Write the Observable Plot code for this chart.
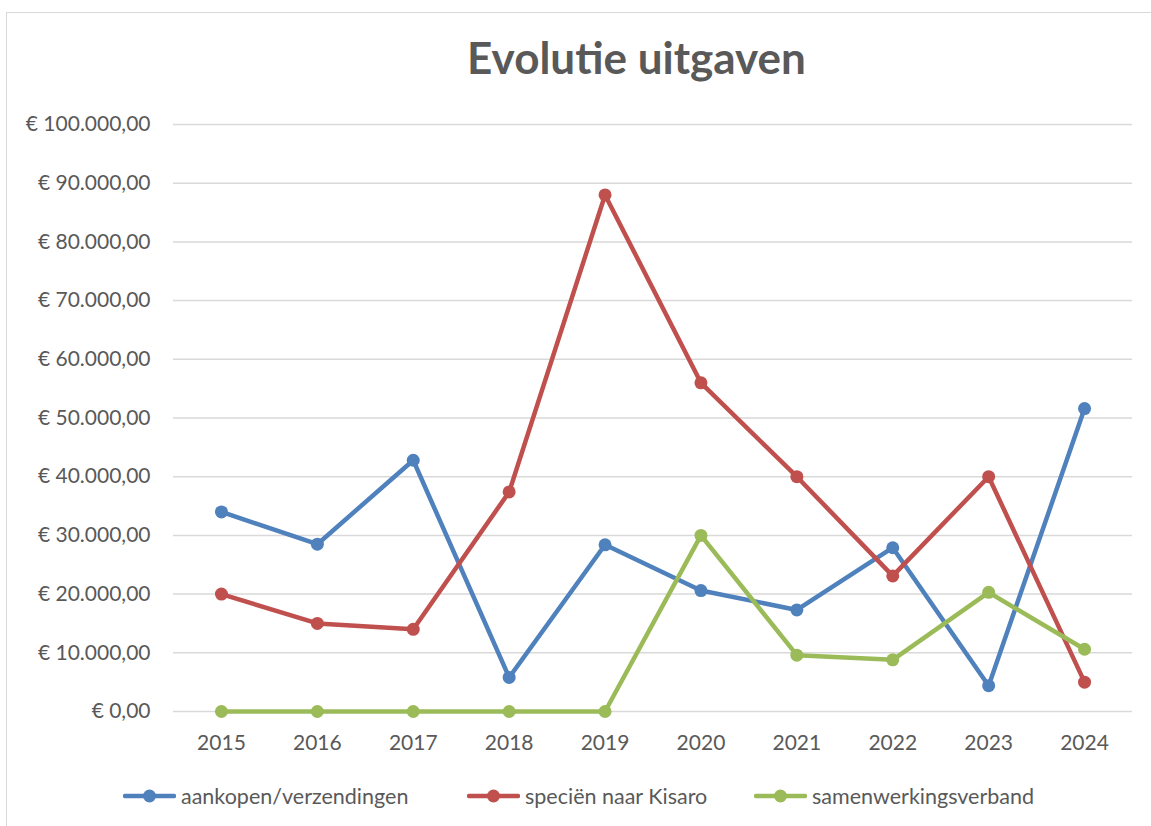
<!DOCTYPE html>
<html>
<head>
<meta charset="utf-8">
<script src="https://cdn.jsdelivr.net/npm/d3@7"></script>
<script src="https://cdn.jsdelivr.net/npm/@observablehq/plot@0.6"></script>
<style>
  html, body { margin: 0; padding: 0; background: #fff; overflow: hidden; width: 1151px; height: 826px; }
  #frame { position: absolute; left: 6px; top: 12px; width: 1200px; height: 900px; border: 1.5px solid #d9d9d9; box-sizing: border-box; }
  #title { position: absolute; left: 0; top: 0; width: 1151px; height: 114px; text-align: center; font-family: Lato, "Open Sans", sans-serif; font-weight: bold; font-size: 44px; color: #595959; line-height: 114px; padding-left: 122px; box-sizing: border-box; }
  #chart { position: absolute; left: 0; top: 100px; }
  #legend { position: absolute; top: 783px; left: 0; width: 1151px; height: 26px; font-family: Lato, "Open Sans", sans-serif; font-size: 21.5px; color: #595959; }
  .item { position: absolute; display: flex; align-items: center; height: 26px; }
  .item svg { margin-right: 5px; }
</style>
</head>
<body>
<div id="frame"></div>
<div id="title">Evolutie uitgaven</div>
<div id="chart"></div>
<div id="legend"></div>
<script>
const years = ["2015","2016","2017","2018","2019","2020","2021","2022","2023","2024"];
const seriesNames = ["aankopen/verzendingen", "speciën naar Kisaro", "samenwerkingsverband"];
const aankopen = [34000, 28500, 42800, 5800, 28400, 20600, 17300, 27900, 4400, 51600];
const specien = [20000, 15000, 14000, 37400, 88000, 56000, 40000, 23100, 40000, 5000];
const samenwerking = [0, 0, 0, 0, 0, 30000, 9600, 8800, 20300, 10600];
const colors = ["#4F81BD", "#C0504D", "#9BBB59"];
const yTicks = [0, 10000, 20000, 30000, 40000, 50000, 60000, 70000, 80000, 90000, 100000];

const seriesValues = [aankopen, specien, samenwerking];
const data = [];
seriesNames.forEach((s, si) => {
  years.forEach((y, i) => data.push({year: y, value: seriesValues[si][i], series: s}));
});

const nl = d3.formatLocale({decimal: ",", thousands: ".", grouping: [3], currency: ["€ ", ""]});
const fmt = nl.format("$,.2f");

const plot = Plot.plot({
  width: 1151,
  height: 650,
  marginLeft: 173,
  marginRight: 19,
  marginTop: 24,
  marginBottom: 39,
  style: {fontFamily: "Lato, 'Open Sans', sans-serif", fontSize: "21px", color: "#595959", background: "transparent", overflow: "visible"},
  x: {type: "point", domain: years, padding: 0.5, align: 0.5, round: false},
  y: {domain: [0, 100000]},
  color: {domain: seriesNames, range: colors},
  marks: [
    Plot.ruleY(yTicks, {stroke: "#d9d9d9", strokeWidth: 1.5}),
    Plot.axisY({ticks: yTicks, tickFormat: fmt, tickSize: 0, tickPadding: 23, label: null}),
    Plot.axisX({tickSize: 0, tickPadding: 24, label: null}),
    Plot.line(data, {x: "year", y: "value", z: "series", stroke: "series", strokeWidth: 4.5, strokeLinejoin: "round", strokeLinecap: "round"}),
    Plot.dot(data, {x: "year", y: "value", fill: "series", r: 6.5})
  ]
});
document.getElementById("chart").appendChild(plot);

const legend = document.getElementById("legend");
const legendX = [123, 467, 754];
seriesNames.forEach((s, i) => {
  const div = document.createElement("div");
  div.className = "item";
  div.style.left = legendX[i] + "px";
  div.innerHTML = `<svg width="53" height="20"><line x1="2" y1="10" x2="51" y2="10" stroke="${colors[i]}" stroke-width="4.5" stroke-linecap="round"/><circle cx="26.5" cy="10" r="6.5" fill="${colors[i]}"/></svg><span>${s}</span>`;
  legend.appendChild(div);
});
</script>
</body>
</html>
